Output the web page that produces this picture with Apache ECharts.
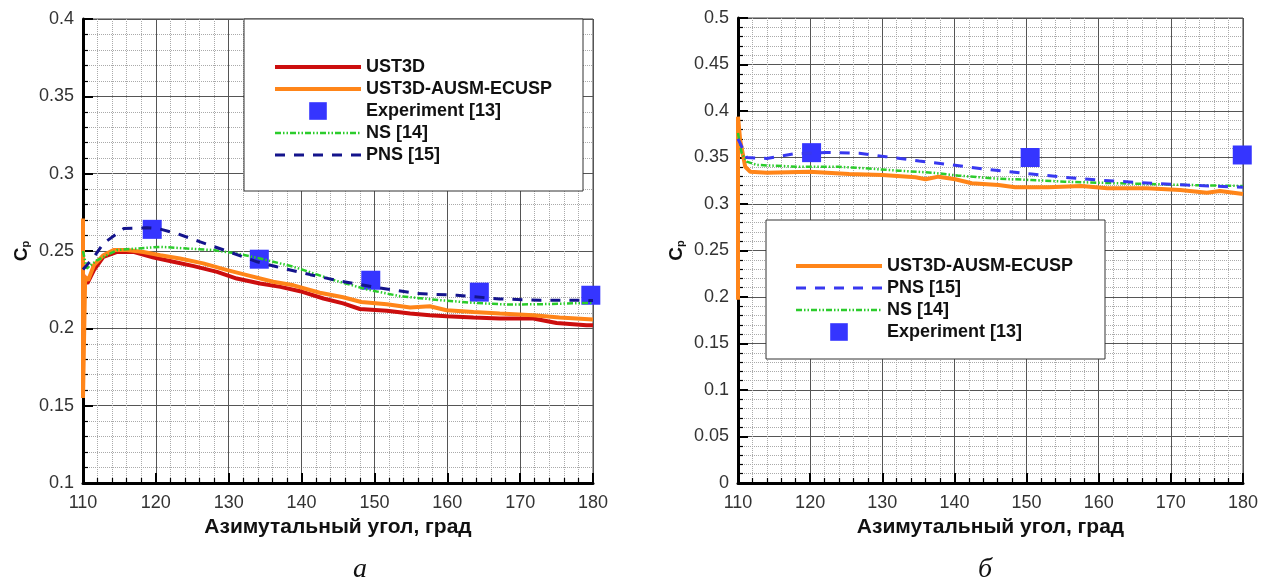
<!DOCTYPE html>
<html>
<head>
<meta charset="utf-8">
<script src="https://cdn.jsdelivr.net/npm/echarts@6/dist/echarts.min.js"></script>
<style>
  html, body { margin: 0; padding: 0; background: #fff; }
  #chart { width: 1261px; height: 579px; }
</style>
</head>
<body>
<div id="chart"></div>
<script>
// --- left panel (а) ---
var ustAngA = [110, 110.3, 110.6, 111.5, 112.8, 114.7, 116.9, 119.7, 122.4, 125.2, 128.4, 131.1, 134.3, 137.1, 139.8, 143, 145.7, 148, 151.7, 154.9, 157.6, 159.9, 163.6, 167.2, 171.8, 175, 179.1, 180];
var ustCpA  = [0.235, 0.231, 0.229, 0.2376, 0.2462, 0.2494, 0.2494, 0.2458, 0.243, 0.2402, 0.2365, 0.2322, 0.229, 0.2268, 0.224, 0.2193, 0.2161, 0.2125, 0.2113, 0.2096, 0.2085, 0.2078, 0.207, 0.2063, 0.2063, 0.2035, 0.202, 0.202];

var ausmAngA = [110, 110, 110.3, 110.7, 111.5, 112.8, 114.2, 116.0, 118.3, 120.6, 123.3, 126.5, 129.8, 132.5, 136.1, 138.9, 142.5, 145.7, 148.2, 151.7, 154.9, 157.6, 159.9, 163.6, 167.2, 171.8, 175.4, 180];
var ausmCpA  = [0.271, 0.155, 0.2333, 0.231, 0.2408, 0.2473, 0.2506, 0.2506, 0.2494, 0.2473, 0.2452, 0.242, 0.2376, 0.2344, 0.2301, 0.2278, 0.223, 0.2201, 0.217, 0.2156, 0.2135, 0.2143, 0.2117, 0.2106, 0.2096, 0.2085, 0.207, 0.2057];

var nsAngA = [110, 110.5, 111.9, 114.7, 117.4, 120.6, 124.3, 127.9, 131.1, 134.3, 138.9, 144.4, 149, 153.5, 159, 163.6, 168.2, 172.8, 180];
var nsCpA  = [0.25, 0.2387, 0.244, 0.2506, 0.2516, 0.2527, 0.2516, 0.2506, 0.2484, 0.2452, 0.2398, 0.2312, 0.2251, 0.2208, 0.2182, 0.2165, 0.2154, 0.2156, 0.2165];

var pnsAngA = [110, 111.5, 112.8, 115.6, 118.8, 120.3, 122.9, 126.1, 129.8, 133.9, 136.6, 141.2, 145.3, 150.3, 155.8, 161.3, 167.2, 172.8, 178.3, 180];
var pnsCpA  = [0.238, 0.2462, 0.2549, 0.2645, 0.265, 0.2645, 0.2613, 0.2559, 0.2499, 0.243, 0.2398, 0.2347, 0.2305, 0.2264, 0.2225, 0.2214, 0.219, 0.2182, 0.2182, 0.218];

var expAngA = [119.5, 134.2, 149.5, 164.4, 179.7];
var expCpA  = [0.264, 0.2447, 0.2311, 0.2234, 0.2214];

// --- right panel (б) ---
var ausmAngB = [110, 110, 110.3, 111, 111.7, 114, 119.9, 125.4, 130, 134.6, 136, 137.8, 140.1, 142.4, 146.1, 148.4, 153, 157.6, 161.2, 166.7, 171.3, 175, 176.8, 180];
var ausmCpB  = [0.197, 0.3939, 0.3688, 0.34, 0.3347, 0.3337, 0.3347, 0.3323, 0.3312, 0.3287, 0.3266, 0.3294, 0.3266, 0.3223, 0.3204, 0.318, 0.318, 0.3194, 0.3169, 0.3169, 0.315, 0.3122, 0.314, 0.3108];

var nsAngB = [110, 110.5, 111.2, 112.6, 118.5, 124, 127.7, 132.3, 136.9, 140.6, 146.1, 150.7, 155.3, 159.9, 166.7, 172.3, 180];
var nsCpB  = [0.3763, 0.355, 0.3455, 0.342, 0.34, 0.34, 0.3384, 0.3358, 0.3337, 0.3305, 0.3272, 0.3258, 0.324, 0.3229, 0.3215, 0.3204, 0.3194];

var pnsAngB = [110, 110.3, 111.2, 114, 117.6, 122.2, 126.8, 130.5, 135.1, 139.7, 144.3, 150.7, 155.3, 159.9, 165.9, 172.3, 180];
var pnsCpB  = [0.37, 0.3652, 0.35, 0.349, 0.3538, 0.3555, 0.3545, 0.3509, 0.3462, 0.342, 0.3373, 0.3323, 0.3287, 0.3258, 0.3229, 0.3204, 0.318];

var expAngB = [120.2, 150.5, 179.9];
var expCpB  = [0.3552, 0.35, 0.3527];

var xTicks = [110, 120, 130, 140, 150, 160, 170, 180];
var yRangeA = [0.1, 0.4];
var yRangeB = [0, 0.5];

var FONT = "'Liberation Sans', Arial, sans-serif";
var C_UST = '#cc0e0e', C_AUSM = '#ff8519', C_NS = '#2bcc2b', C_PNS_A = '#14148c', C_PNS_B = '#3838f0', C_EXP = '#3535ff';
var DASH_NS = [6, 2, 1.5, 2, 1.5, 2];

function zip(a, b) { return a.map(function (v, i) { return [v, b[i]]; }); }

function xAxisFor(grid) {
  return {
    type: 'value', gridIndex: grid, min: xTicks[0], max: xTicks[xTicks.length - 1], interval: 10,
    name: 'Азимутальный угол, град', nameLocation: 'middle', nameGap: 22,
    nameTextStyle: { fontFamily: FONT, fontWeight: 'bold', fontSize: 21, color: '#111' },
    axisLine: { lineStyle: { color: '#000', width: 3 } },
    axisTick: { inside: true, length: 10, lineStyle: { color: '#000', width: 2 } },
    minorTick: { show: true, splitNumber: 5, length: 5, lineStyle: { color: '#000', width: 1.2 } },
    axisLabel: { fontFamily: FONT, fontSize: 18, color: '#333', margin: 11 },
    splitLine: { show: true, lineStyle: { color: '#555', width: 1 } },
    minorSplitLine: { show: true, lineStyle: { color: '#aaa', width: 1, type: 'dotted' } }
  };
}
function yAxisFor(grid, range) {
  return {
    type: 'value', gridIndex: grid, min: range[0], max: range[1], interval: 0.05,
    name: '{c|C}{p|p}', nameLocation: 'middle', nameRotate: 90, nameGap: 52,
    nameTextStyle: { rich: {
      c: { fontFamily: FONT, fontWeight: 'bold', fontSize: 19, color: '#111' },
      p: { fontFamily: FONT, fontWeight: 'bold', fontSize: 11, color: '#111', verticalAlign: 'bottom' }
    } },
    axisLine: { lineStyle: { color: '#000', width: 3 } },
    axisTick: { inside: true, length: 10, lineStyle: { color: '#000', width: 2 } },
    minorTick: { show: true, splitNumber: 5, length: 5, lineStyle: { color: '#000', width: 1.2 } },
    axisLabel: { fontFamily: FONT, fontSize: 18, color: '#333', margin: 9 },
    splitLine: { show: true, lineStyle: { color: '#555', width: 1 } },
    minorSplitLine: { show: true, lineStyle: { color: '#aaa', width: 1, type: 'dotted' } }
  };
}
function line(name, grid, xs, ys, color, width, type, z) {
  return {
    name: name, type: 'line', xAxisIndex: grid, yAxisIndex: grid,
    data: zip(xs, ys), symbol: 'none', showSymbol: false, z: z,
    lineStyle: { color: color, width: width, type: type }
  };
}
// experiment points: a line series with no visible line, square markers
function exp(grid, xs, ys) {
  return {
    name: 'Experiment [13]', type: 'line', xAxisIndex: grid, yAxisIndex: grid,
    data: zip(xs, ys), symbol: 'rect', symbolSize: 19, showSymbol: true, showAllSymbol: true, z: 1,
    itemStyle: { color: C_EXP, opacity: 1 },
    lineStyle: { width: 0, opacity: 0 }
  };
}
function legendItem(name, w, color) {
  var it = { name: name, itemStyle: { opacity: 0 }, lineStyle: { width: w } };
  if (color) it.lineStyle.color = color;
  return it;
}
var legendBase = {
  orient: 'vertical', itemWidth: 86, itemHeight: 22, itemGap: 4,
  backgroundColor: '#fff', borderColor: '#333', borderWidth: 1,
  textStyle: { fontFamily: FONT, fontWeight: 'bold', fontSize: 18, color: '#111' },
  selectedMode: false
};

var chart = echarts.init(document.getElementById('chart'));
chart.setOption({
  animation: false,
  backgroundColor: '#fff',
  grid: [
    { left: 83, right: 1261 - 593, top: 19, bottom: 579 - 483, show: true, borderColor: '#444', borderWidth: 1 },
    { left: 738, right: 1261 - 1246, top: 18, bottom: 579 - 483, show: true, borderColor: '#444', borderWidth: 1 }
  ],
  xAxis: [xAxisFor(0), xAxisFor(1)],
  yAxis: [yAxisFor(0, yRangeA), yAxisFor(1, yRangeB)],
  legend: [
    Object.assign({}, legendBase, {
      left: 244, top: 19, padding: [39, 31, 27, 29],
      data: [legendItem('UST3D', 4), legendItem('UST3D-AUSM-ECUSP', 4), { name: 'Experiment [13]', lineStyle: { width: 0 } },
             legendItem('NS [14]', 2.5), legendItem('PNS [15]', 3)]
    }),
    Object.assign({}, legendBase, {
      left: 766, top: 220, padding: [37, 32, 18, 28],
      data: [legendItem('UST3D-AUSM-ECUSP', 4), legendItem('PNS [15]', 3, C_PNS_B),
             legendItem('NS [14]', 2.5), { name: 'Experiment [13]', lineStyle: { width: 0 } }]
    })
  ],
  graphic: [
    { type: 'text', x: 360, y: 570, style: { text: 'а', align: 'center', verticalAlign: 'middle', font: "italic 28px 'Liberation Serif', serif", fill: '#111' } },
    { type: 'text', x: 985, y: 570, style: { text: 'б', align: 'center', verticalAlign: 'middle', font: "italic 28px 'Liberation Serif', serif", fill: '#111' } }
  ],
  series: [
    exp(0, expAngA, expCpA),
    line('UST3D', 0, ustAngA, ustCpA, C_UST, 4, 'solid', 3),
    line('UST3D-AUSM-ECUSP', 0, ausmAngA, ausmCpA, C_AUSM, 4, 'solid', 4),
    line('NS [14]', 0, nsAngA, nsCpA, C_NS, 2.5, DASH_NS, 5),
    line('PNS [15]', 0, pnsAngA, pnsCpA, C_PNS_A, 3, [10, 9], 6),
    exp(1, expAngB, expCpB),
    line('UST3D-AUSM-ECUSP', 1, ausmAngB, ausmCpB, C_AUSM, 4, 'solid', 4),
    line('NS [14]', 1, nsAngB, nsCpB, C_NS, 2.5, DASH_NS, 5),
    line('PNS [15]', 1, pnsAngB, pnsCpB, C_PNS_B, 3, [10, 9], 6)
  ]
});
</script>
</body>
</html>
